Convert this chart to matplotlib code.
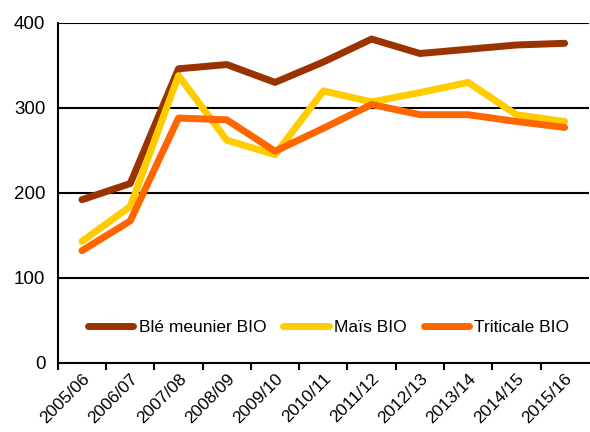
import matplotlib
matplotlib.use("Agg")
import matplotlib.pyplot as plt
import numpy as np

plt.rcParams['font.family'] = ['Liberation Sans Narrow', 'Liberation Sans', 'DejaVu Sans']

campagnes = ["2005/06", "2006/07", "2007/08", "2008/09", "2009/10", "2010/11",
             "2011/12", "2012/13", "2013/14", "2014/15", "2015/16"]
ble = [192, 211, 346, 351, 330, 354, 381, 364, 369, 374, 376]
mais = [143, 184, 338, 262, 245, 320, 307, 318, 330, 292, 284]
triticale = [132, 167, 288, 286, 249, 276, 304, 292, 292, 284, 277]

fig = plt.figure(figsize=(5.9, 4.32), dpi=100)
ax = fig.add_axes([0.098, 0.160, 0.900, 0.787])

x = np.arange(len(campagnes))
ax.plot(x, ble, color="#993300", lw=5, solid_capstyle="round", label="Blé meunier BIO")
ax.plot(x, mais, color="#FFCC00", lw=5, solid_capstyle="round", label="Maïs BIO")
ax.plot(x, triticale, color="#FF6600", lw=5, solid_capstyle="round", label="Triticale BIO")

ax.set_xlim(-0.5, len(campagnes) - 0.5)
ax.set_ylim(0, 400)
ax.set_yticks([0, 100, 200, 300, 400])
for v in [100, 200, 300, 400]:
    ax.axhline(v, color="black", lw=1.5, zorder=0)

ax.set_xticks(x - 0.5, minor=False)
ax.set_xticklabels([])
ax.set_xticks(x, minor=True)
ax.set_xticklabels(campagnes, minor=True, rotation=45, ha="right", rotation_mode="anchor", fontsize=12.5)
ax.tick_params(axis="x", which="minor", length=0, pad=6)
ax.tick_params(axis="x", which="major", length=5, width=1.5, direction="out")
ax.tick_params(axis="y", length=0, labelsize=13.5, pad=9)

for s in ["top", "right"]:
    ax.spines[s].set_visible(False)
ax.spines["left"].set_linewidth(1.5)
ax.spines["bottom"].set_linewidth(1.5)

ax.legend(loc="center", bbox_to_anchor=(0.51, 0.105), ncol=3, frameon=False,
          fontsize=12.5, handlelength=2.6, columnspacing=1.0, handletextpad=0.3)

fig.savefig("out.png", dpi=100)
